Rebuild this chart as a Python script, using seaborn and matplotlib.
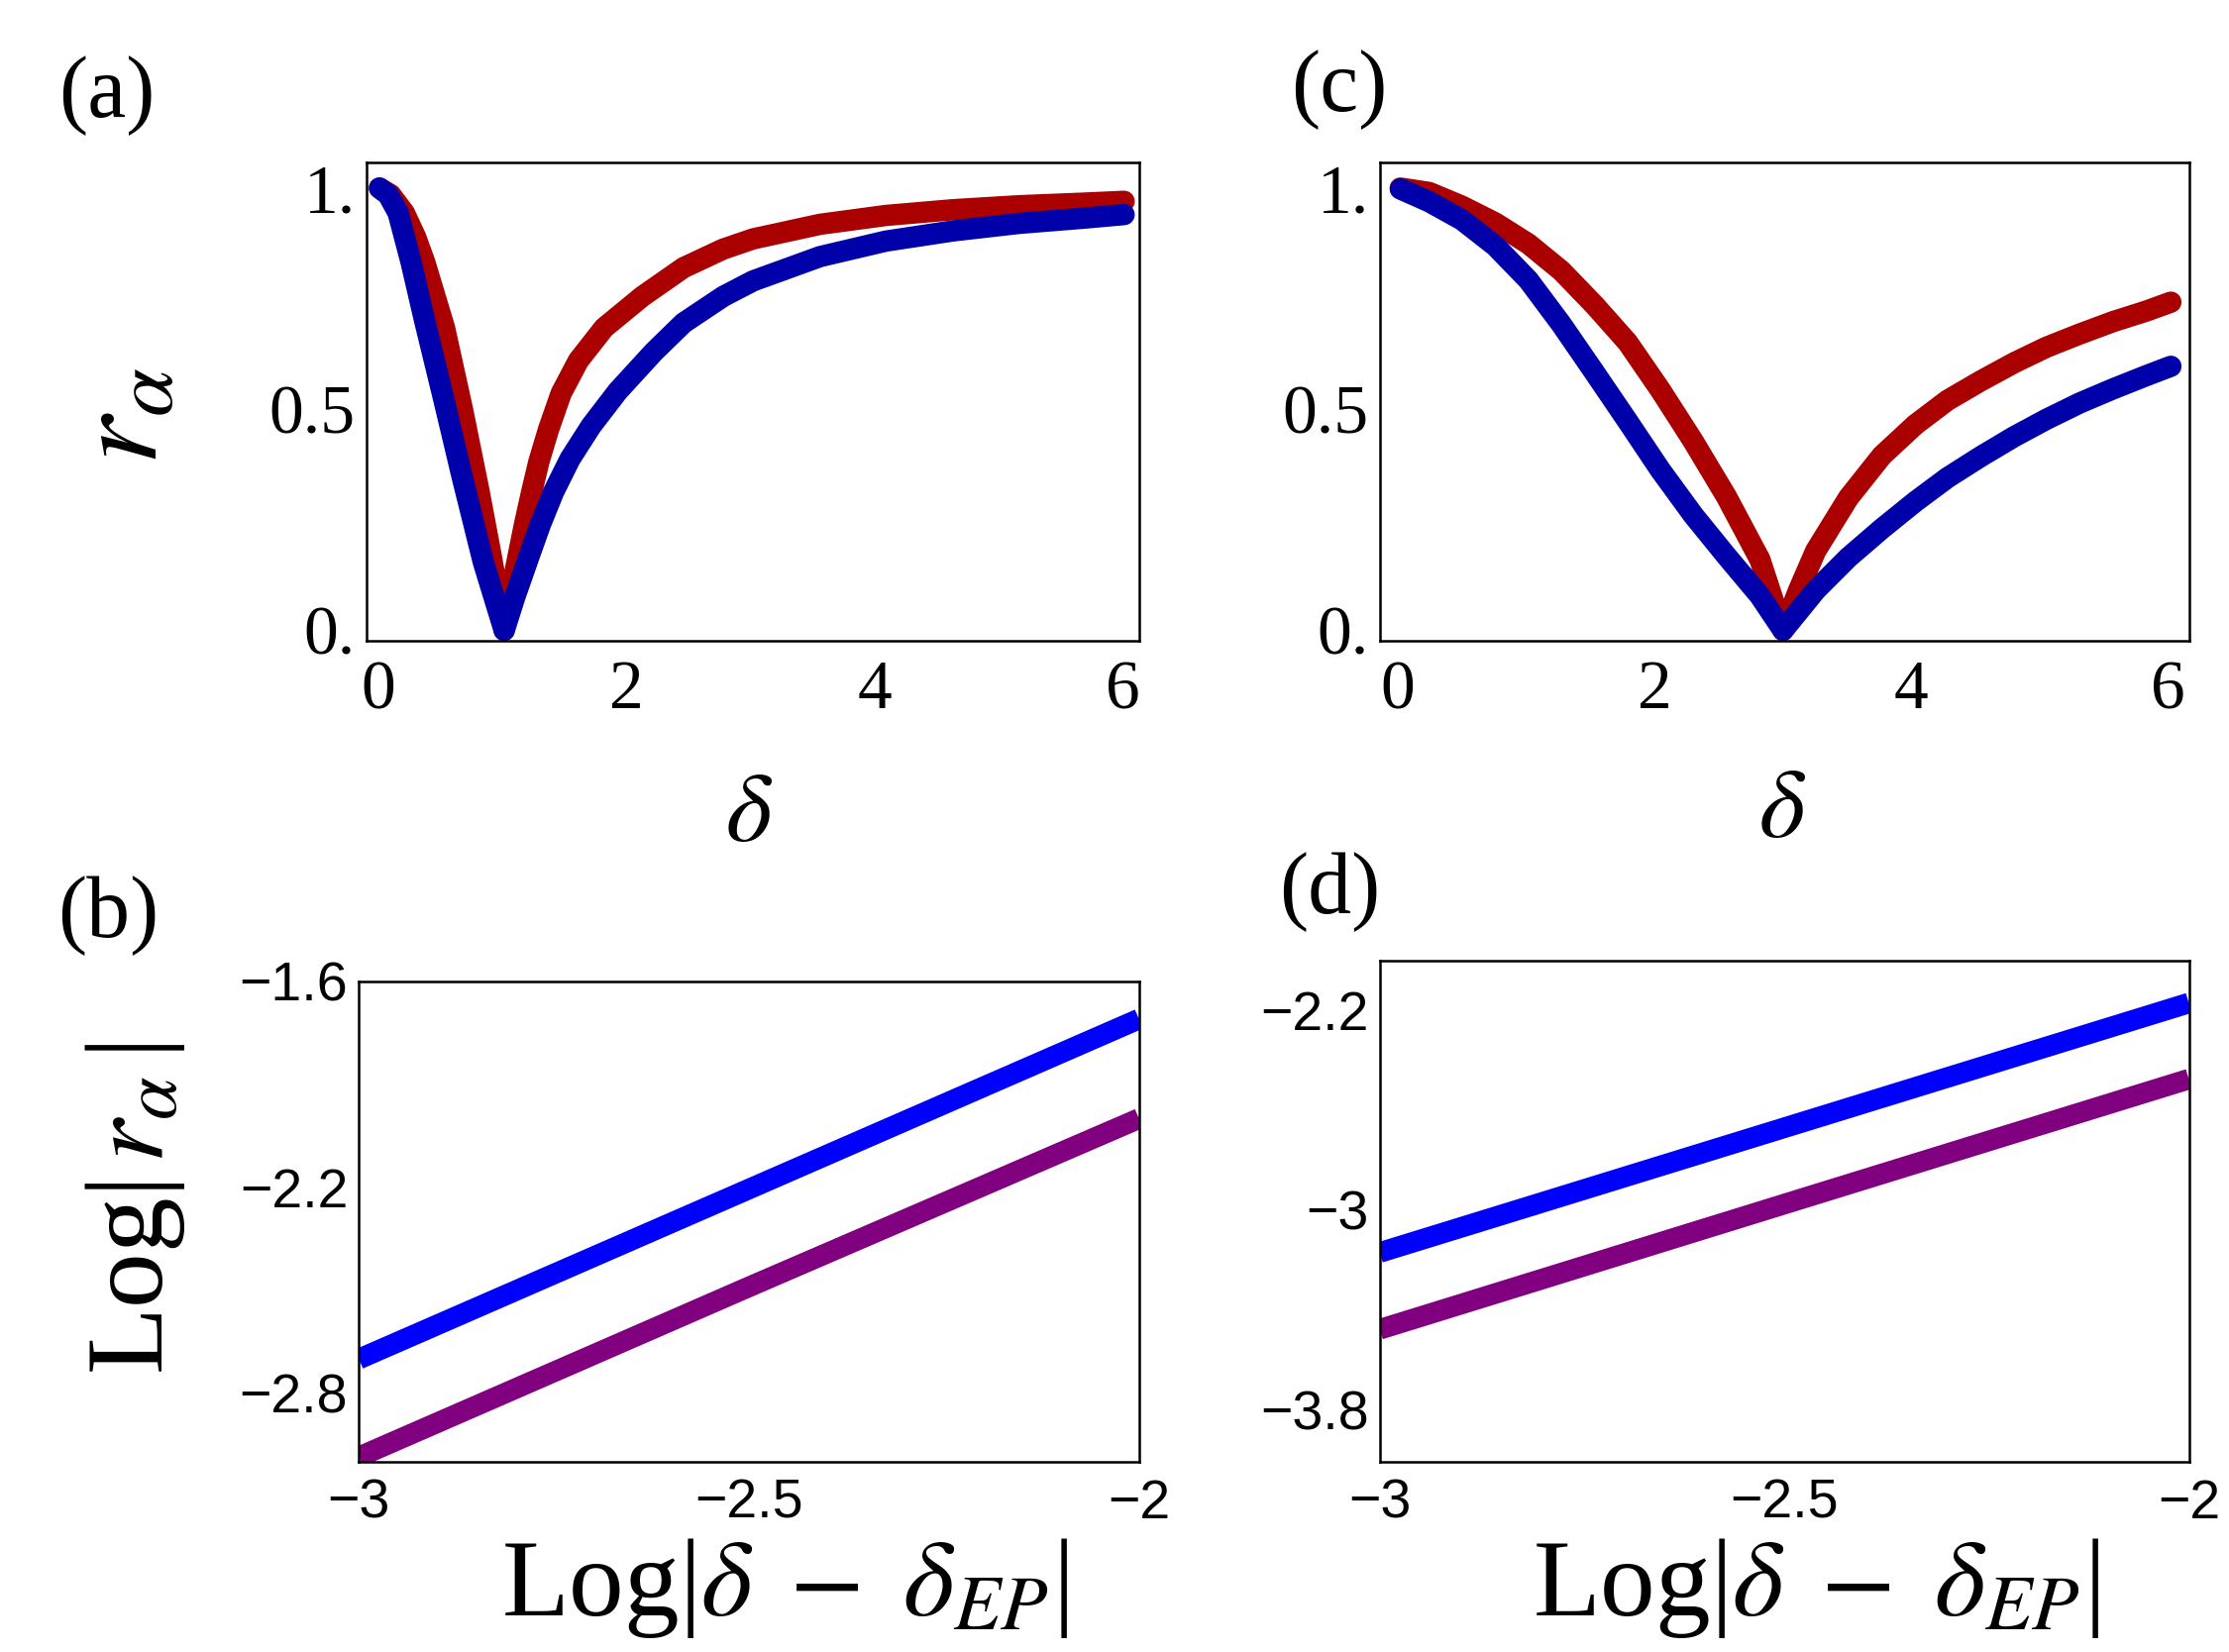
import numpy as np
import pandas as pd
import matplotlib
matplotlib.use("Agg")
import matplotlib.pyplot as plt
import seaborn as sns

# ---------------- data ----------------
# panel (a): r_alpha vs delta, EP at delta = 1
a_red_x = [0.01, 0.1, 0.21, 0.3, 0.374, 0.534, 0.68, 0.814, 0.913, 1.015,
           1.1, 1.175, 1.234, 1.293, 1.373, 1.474, 1.613, 1.82, 2.128, 2.46, 2.78, 3.02,
           3.56, 4.09, 4.63, 5.16, 5.69, 6.01]
a_red_y = [1.0, 0.985, 0.944, 0.89, 0.833, 0.684, 0.498, 0.312, 0.164, 0.0,
           0.13, 0.235, 0.31, 0.38, 0.455, 0.536, 0.61, 0.684, 0.755, 0.82, 0.862, 0.885,
           0.918, 0.938, 0.951, 0.96, 0.966, 0.97]
a_blue_x = [0.01, 0.08, 0.16, 0.264, 0.374, 0.53, 0.678, 0.846, 1.015,
            1.1, 1.212, 1.306, 1.413, 1.546, 1.715, 1.928, 2.222, 2.46, 2.78, 3.02,
            3.56, 4.09, 4.63, 5.16, 5.69, 6.01]
a_blue_y = [1.0, 0.985, 0.944, 0.833, 0.70, 0.52, 0.345, 0.155, 0.0,
            0.075, 0.165, 0.239, 0.313, 0.388, 0.462, 0.54, 0.63, 0.695, 0.755, 0.79,
            0.845, 0.88, 0.903, 0.92, 0.932, 0.94]

# panel (c): r_alpha vs delta, EP at delta = 3
c_red_x = [0.02, 0.245, 0.5, 0.76, 1.017, 1.274, 1.53, 1.79, 2.046, 2.30, 2.56, 2.82, 3.0,
           3.12, 3.255, 3.51, 3.77, 4.03, 4.28, 4.54, 4.80, 5.05, 5.31, 5.57, 5.83, 6.02]
c_red_y = [1.0, 0.99, 0.959, 0.921, 0.874, 0.813, 0.736, 0.651, 0.543, 0.428, 0.302, 0.16, 0.0,
           0.09, 0.18, 0.30, 0.395, 0.465, 0.52, 0.564, 0.605, 0.64, 0.67, 0.698, 0.722, 0.742]
c_blue_x = [0.02, 0.245, 0.5, 0.76, 1.017, 1.274, 1.53, 1.79, 2.046, 2.30, 2.56, 2.82, 3.0,
            3.255, 3.51, 3.77, 4.03, 4.28, 4.54, 4.80, 5.05, 5.31, 5.57, 5.83, 6.02]
c_blue_y = [0.998, 0.969, 0.928, 0.869, 0.792, 0.692, 0.584, 0.473, 0.362, 0.261, 0.168, 0.078, 0.0,
            0.091, 0.165, 0.23, 0.291, 0.345, 0.393, 0.438, 0.477, 0.514, 0.546, 0.576, 0.597]

# panel (b): log-log near EP
b_x = [-3.0, -2.5, -2.0]
b_blue_y = [-2.70, -2.205, -1.71]
b_purple_y = [-2.985, -2.49, -2.0]

# panel (d): log-log near EP
d_x = [-3.0, -2.5, -2.0]
d_blue_y = [-3.17, -2.67, -2.17]
d_purple_y = [-3.478, -2.976, -2.475]

# ticks
ac_xticks = [0, 2, 4, 6]
ac_xticklabels = ["0", "2", "4", "6"]
ac_yticks = [0, 0.5, 1.0]
ac_yticklabels = ["0.", "0.5", "1."]
bd_xticks = [-3, -2.5, -2]
bd_xticklabels = ["\u22123", "\u22122.5", "\u22122"]
b_yticks = [-1.6, -2.2, -2.8]
b_yticklabels = ["\u22121.6", "\u22122.2", "\u22122.8"]
d_yticks = [-2.2, -3.0, -3.8]
d_yticklabels = ["\u22122.2", "\u22123", "\u22123.8"]

# ---------------- style ----------------
sns.set_theme(style="white")
plt.rcParams.update({
    "font.family": ["Liberation Serif", "DejaVu Serif"],
    "mathtext.fontset": "stix",
    "axes.edgecolor": "black",
    "axes.linewidth": 1.8,
    "text.color": "black",
    "axes.labelcolor": "black",
    "xtick.labelcolor": "black",
    "ytick.labelcolor": "black",
})

RED = "#AA0000"
DBLUE = "#0000AA"
BLUE = "#0000FF"
PURPLE = "#800080"

fig = plt.figure(figsize=(22.5, 16.68), dpi=100)
ax_a = fig.add_axes([0.1644, 0.612, 0.3466, 0.2897])
ax_c = fig.add_axes([0.619, 0.612, 0.363, 0.2897])
ax_b = fig.add_axes([0.161, 0.115, 0.350, 0.291])
ax_d = fig.add_axes([0.619, 0.115, 0.363, 0.3035])


def curve(ax, x, y, color, lw, cap):
    df = pd.DataFrame({"x": x, "y": y})
    sns.lineplot(data=df, x="x", y="y", ax=ax, color=color, lw=lw,
                 estimator=None, sort=False, legend=False,
                 solid_capstyle=cap, solid_joinstyle="round")


curve(ax_a, a_red_x, a_red_y, RED, 15.5, "round")
curve(ax_a, a_blue_x, a_blue_y, DBLUE, 15.5, "round")
curve(ax_c, c_red_x, c_red_y, RED, 15.5, "round")
curve(ax_c, c_blue_x, c_blue_y, DBLUE, 15.5, "round")
curve(ax_b, b_x, b_blue_y, BLUE, 15, "butt")
curve(ax_b, b_x, b_purple_y, PURPLE, 15, "butt")
curve(ax_d, d_x, d_blue_y, BLUE, 15, "butt")
curve(ax_d, d_x, d_purple_y, PURPLE, 15, "butt")

for ax in (ax_a, ax_c):
    ax.set_xticks(ac_xticks)
    ax.set_xticklabels(ac_xticklabels, fontsize=50, family="Liberation Serif")
    ax.set_yticks(ac_yticks)
    ax.set_yticklabels(ac_yticklabels, fontsize=50, family="Liberation Serif")
    ax.set_ylim(-0.024, 1.058)
    ax.tick_params(direction="in", length=6, width=1, color="#888888", pad=8)
    ax.tick_params(axis="x", pad=14)
ax_a.set_xlim(-0.095, 6.13)
ax_c.set_xlim(-0.14, 6.16)

for ax, yt, ytl in ((ax_b, b_yticks, b_yticklabels), (ax_d, d_yticks, d_yticklabels)):
    ax.set_xticks(bd_xticks)
    ax.set_xticklabels(bd_xticklabels, fontsize=40, family="Liberation Sans")
    ax.set_yticks(yt)
    ax.set_yticklabels(ytl, fontsize=40, family="Liberation Sans")
    ax.set_xlim(-3.0, -2.0)
    ax.tick_params(direction="in", length=6, width=1, color="#888888", pad=8)
    ax.tick_params(axis="x", pad=12)
ax_b.set_ylim(-3.0, -1.6)
ax_d.set_ylim(-4.01, -2.0)

for ax in (ax_a, ax_b, ax_c, ax_d):
    for s in ax.spines.values():
        s.set_visible(True)
        s.set_color("black")
        s.set_linewidth(1.8)

# axis labels
ax_a.set_ylabel(r"$r_\alpha$", fontsize=90)
ax_a.yaxis.label.set_va("center")
ax_a.yaxis.set_label_coords(-0.309, 0.47)
ax_a.set_xlabel(r"$\delta$", fontsize=72)
ax_a.xaxis.label.set_va("center")
ax_a.xaxis.set_label_coords(0.495, -0.368)

ax_c.set_ylabel("")
ax_c.set_xlabel(r"$\delta$", fontsize=72)
ax_c.xaxis.label.set_va("center")
ax_c.xaxis.set_label_coords(0.498, -0.36)

ax_b.set_ylabel(r"Log|$\,r_\alpha\,$|", fontsize=80, family="Liberation Serif")
ax_b.yaxis.label.set_va("center")
ax_b.yaxis.set_label_coords(-0.287, 0.526)
xl = r"Log|$\delta\;-\;\delta_{EP}$|"
ax_b.set_xlabel(xl, fontsize=80, family="Liberation Serif")
ax_b.xaxis.label.set_va("center")
ax_b.xaxis.set_label_coords(0.546, -0.262)

ax_d.set_ylabel("")
ax_d.set_xlabel(xl, fontsize=80, family="Liberation Serif")
ax_d.xaxis.label.set_va("center")
ax_d.xaxis.set_label_coords(0.539, -0.251)

# panel labels
for txt, fx, fy in (("(a)", 108, 97), ("(c)", 1352, 91), ("(b)", 109, 925), ("(d)", 1342, 901)):
    fig.text(fx / 2250, 1 - fy / 1668, txt, fontsize=63, family="Liberation Serif",
             ha="center", va="center")

fig.savefig("out.png", dpi=100)
